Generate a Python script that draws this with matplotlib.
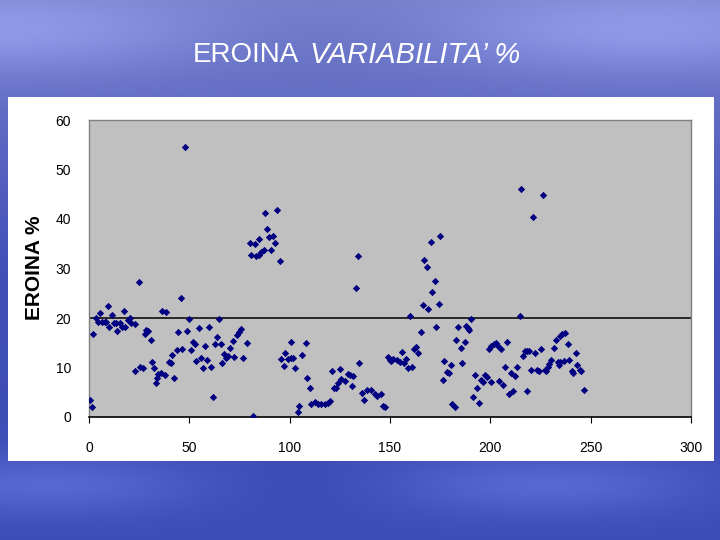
import numpy as np
import matplotlib
matplotlib.use("Agg")
import matplotlib.pyplot as plt

plt.rcParams['font.family'] = ['Liberation Sans', 'DejaVu Sans']

# days (x) and heroin variability % (y)
giorni = [0.3, 1.7, 2.2, 3.7, 4.3, 5.7, 6.5, 7.8, 8.7, 9.7, 10.0, 11.7, 12.3, 13.5,
          14.0, 15.2, 16.2, 17.3, 17.8, 19.5, 20.3, 20.8, 22.7, 22.8, 24.7, 25.3, 27.0,
          27.7, 28.3, 29.3, 30.8, 31.5, 32.5, 33.5, 34.0, 34.5, 35.8, 36.2, 37.7, 38.3,
          40.0, 40.7, 41.5, 42.5, 43.7, 44.5, 45.8, 46.3, 47.8, 48.7, 49.8, 50.7, 51.7,
          52.7, 53.5, 54.8, 55.7, 56.8, 57.7, 58.7, 59.7, 60.8, 61.7, 62.8, 63.7, 65.0,
          65.8, 66.3, 67.5, 68.3, 69.5, 70.5, 71.8, 72.5, 73.8, 74.7, 75.8, 76.7, 78.7,
          80.0, 80.7, 81.8, 82.8, 83.2, 84.5, 84.7, 85.8, 87.0, 87.7, 88.8, 89.8, 90.8,
          91.8, 92.8, 93.8, 95.0, 95.8, 97.2, 97.8, 99.2, 100.5, 100.7, 101.8, 102.7,
          104.2, 104.8, 106.3, 108.0, 108.8, 110.0, 110.8, 112.5, 114.2, 115.8, 117.5,
          119.2, 120.3, 121.2, 122.2, 123.3, 124.0, 125.2, 125.8, 127.5, 129.0, 130.0,
          131.2, 131.8, 133.0, 134.0, 134.8, 136.0, 137.0, 138.3, 140.5, 142.5, 143.7,
          145.3, 146.5, 147.3, 148.8, 150.0, 150.5, 151.7, 153.3, 155.0, 155.8, 156.8,
          158.0, 159.2, 160.2, 161.2, 162.0, 163.2, 163.8, 165.3, 166.2, 166.8, 168.2,
          168.8, 170.2, 171.0, 172.2, 173.0, 174.2, 175.0, 176.3, 177.0, 178.2, 179.2,
          180.2, 181.0, 182.5, 183.0, 183.8, 185.2, 186.0, 187.2, 188.0, 188.7, 189.3,
          190.2, 191.3, 192.2, 193.5, 194.2, 195.5, 196.2, 197.5, 198.3, 199.2, 200.2,
          200.5, 201.8, 202.8, 203.7, 204.2, 205.2, 206.3, 207.2, 208.5, 209.2, 210.2,
          211.2, 212.3, 213.5, 214.7, 215.2, 216.3, 217.2, 218.2, 218.3, 219.5, 220.2,
          221.3, 222.2, 223.3, 224.3, 225.3, 226.0, 227.2, 227.7, 228.5, 229.2, 230.3,
          231.5, 232.5, 233.7, 234.2, 234.8, 234.8, 235.8, 236.5, 237.2, 238.5, 239.2,
          240.8, 241.3, 242.5, 243.3, 244.5, 245.3, 246.8]
variabilita = [3.4, 2.0, 16.8, 20.1, 19.2, 21.0, 19.2, 19.2, 19.2, 22.4, 18.2, 20.7, 19.0,
               19.0, 17.4, 19.0, 18.2, 21.4, 18.2, 19.6, 20.0, 18.9, 9.2, 18.8, 27.3, 10.2,
               10.0, 16.7, 17.6, 17.4, 15.5, 11.1, 9.8, 6.8, 7.8, 8.7, 8.8, 21.5, 8.5, 21.3,
               11.2, 10.9, 12.6, 7.9, 13.5, 17.2, 24.0, 13.7, 54.6, 17.3, 19.8, 13.5, 15.2,
               14.7, 11.3, 18.0, 11.9, 9.8, 14.4, 11.6, 18.2, 10.2, 4.0, 14.7, 16.2, 19.8,
               14.7, 11.0, 12.7, 12.0, 12.3, 13.9, 15.4, 12.1, 16.5, 17.2, 17.7, 11.9, 15.0,
               35.2, 32.8, 0.2, 34.9, 32.5, 32.8, 36.0, 33.3, 33.7, 41.3, 38.0, 36.3, 33.7,
               36.5, 35.1, 41.8, 31.5, 11.8, 10.4, 12.9, 11.8, 11.9, 15.2, 11.9, 10.0,
               1.0, 2.2, 12.6, 15.0, 7.9, 5.8, 2.7, 3.1, 2.7, 2.6, 2.6,
               2.8, 3.2, 9.2, 5.8, 5.8, 6.8, 9.6, 7.7, 7.2, 8.7, 8.5,
               6.3, 8.2, 26.1, 32.6, 10.9, 4.8, 3.4, 5.4, 5.4, 4.6, 4.2,
               4.6, 2.3, 2.0, 12.2, 11.6, 11.3, 11.7, 11.5, 11.2, 13.1, 10.9,
               11.8, 9.8, 20.5, 10.2, 13.8, 14.1, 12.9, 17.2, 22.6, 31.7, 30.3,
               21.8, 35.4, 25.2, 27.5, 18.1, 22.8, 36.5, 7.5, 11.4, 9.0, 8.8,
               10.5, 2.6, 2.1, 15.6, 18.1, 13.9, 10.9, 15.2, 18.4, 18.0, 17.6,
               19.7, 4.0, 8.4, 5.9, 2.8, 7.4, 7.1, 8.4, 8.1, 13.7, 7.1,
               14.3, 14.7, 15.0, 14.4, 7.2, 13.7, 6.4, 10.1, 15.2, 4.6, 8.9,
               5.3, 8.2, 10.2, 20.5, 46.1, 12.3, 13.3, 5.3, 13.3, 13.3, 9.4,
               40.5, 12.9, 9.4, 9.2, 13.7, 44.9, 9.4, 9.2, 10.2, 10.8, 11.6,
               13.9, 15.5, 11.2, 10.6, 16.4, 11.2, 16.7, 11.3, 16.9, 14.7, 11.5,
               9.2, 8.8, 12.9, 10.5, 9.4, 9.3, 5.5]
soglia = 20
y_ticks = [0, 10, 20, 30, 40, 50, 60]
x_ticks = [0, 50, 100, 150, 200, 250, 300]

fig = plt.figure(figsize=(7.2, 5.4), dpi=100)

# slide background: blue sky gradient with a few light streaks
bg = fig.add_axes([0, 0, 1, 1])
rows = np.linspace(0, 1, 270)[:, None]
cols = np.linspace(0, 1, 360)[None, :]
top = np.array([0.46, 0.50, 0.80])
mid = np.array([0.26, 0.31, 0.72])
bottom = np.array([0.24, 0.30, 0.72])
shade = (rows * np.ones_like(cols))[..., None]
img = np.where(shade < 0.5,
               top * (1 - 2 * shade) + mid * (2 * shade),
               mid * (2 - 2 * shade) + bottom * (2 * shade - 1))
light = 0.12 * np.exp(-((rows - 0.06) ** 2) / 0.006) * (0.5 + 0.5 * np.cos(cols * 7.0))
light += 0.10 * np.exp(-((rows - 0.90) ** 2) / 0.003) * (0.5 + 0.5 * np.sin(cols * 9.0 + 1))
img = np.clip(img + light[..., None], 0, 1)
bg.imshow(img, aspect='auto', extent=[0, 1, 0, 1], origin='upper')
bg.set_axis_off()

# white chart box
box = fig.add_axes([8 / 720, 1 - 461 / 540, 706 / 720, 364 / 540])
box.set_facecolor('white')
box.set_xticks([])
box.set_yticks([])
for s in box.spines.values():
    s.set_visible(False)

# title (regular + italic part)
fig.text(299 / 720, 1 - 55 / 540, "EROINA", color='white', fontsize=20,
         ha='right', va='center')
fig.text(310 / 720, 1 - 55 / 540, "VARIABILITA\u2019 %", color='white', fontsize=21,
         ha='left', va='center', style='italic')

ax = fig.add_axes([89 / 720, 1 - 417 / 540, 602 / 720, 297 / 540])
ax.set_facecolor('#c0c0c0')
ax.scatter(giorni, variabilita, marker='D', s=14, color='#000080', zorder=3,
           linewidths=0)
ax.axhline(soglia, color='black', lw=1.1, zorder=2)

ax.set_xlim(0, 300)
ax.set_ylim(0, 60)
ax.set_xticks(x_ticks)
ax.set_yticks(y_ticks)
ax.tick_params(axis='y', length=0, pad=13, labelsize=10)
ax.tick_params(axis='x', length=4, direction='out', pad=13, labelsize=10)
ax.spines['bottom'].set_color('black')
ax.spines['bottom'].set_linewidth(1.2)
for side in ['left', 'top', 'right']:
    ax.spines[side].set_color('#808080')
    ax.spines[side].set_linewidth(1.0)

fig.text(35 / 720, 1 - 268 / 540, "EROINA %", rotation=90, fontsize=15,
         fontweight='bold', ha='center', va='center', color='black')

fig.savefig('out.png', dpi=100)
